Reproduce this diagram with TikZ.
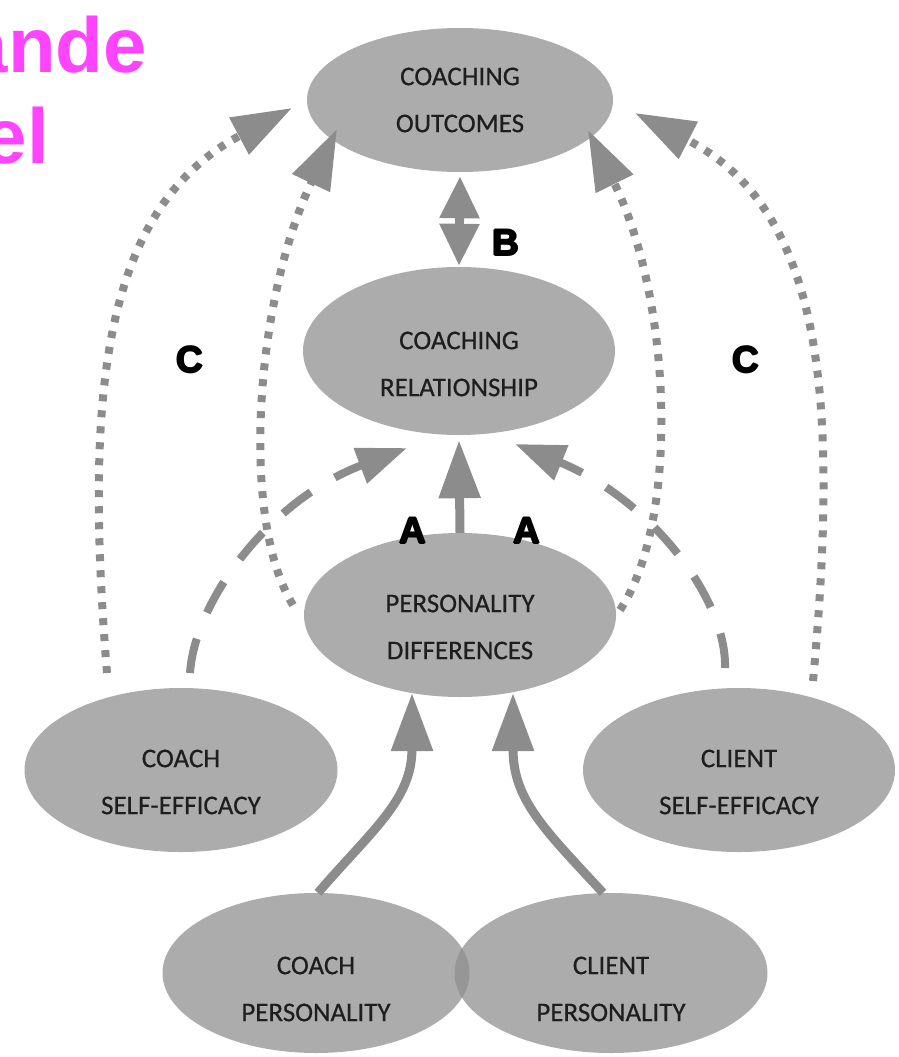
\documentclass[tikz,border=0pt]{standalone}
\usepackage{fontspec}
\setmainfont{Carlito}[FakeBold=0.5]
\newfontfamily\arialf{Liberation Sans}
\usetikzlibrary{arrows.meta,shapes.geometric}
\definecolor{ellfill}{RGB}{172,172,172}
\definecolor{arrgray}{RGB}{140,140,140}
\definecolor{ovl}{RGB}{150,150,150}
\definecolor{txt}{RGB}{30,30,30}
\definecolor{mag}{RGB}{255,68,255}
\newcommand\heavyglyph[1]{\makebox[0pt][l]{\hspace{-0.9pt}#1}\makebox[0pt][l]{\hspace{0.9pt}#1}\makebox[0pt][l]{\raisebox{0.9pt}{#1}}\makebox[0pt][l]{\raisebox{-0.9pt}{#1}}#1}
\begin{document}
\begin{tikzpicture}[x=1pt,y=-1pt,
  ell/.style={ellipse, fill=ellfill, draw=none, inner sep=0pt},
  lbl/.style={font=\fontsize{27}{47}\selectfont, text=txt, align=center, inner sep=0pt},
  letter/.style={font=\arialf\bfseries\fontsize{37}{37}\selectfont, text=black, inner sep=0pt},
  magtext/.style={font=\arialf\bfseries\fontsize{78}{78}\selectfont, text=mag, anchor=base east, inner sep=0pt},
  solidarrow/.style={draw=arrgray, line width=9pt, -{Triangle[length=58pt,width=40pt]}},
  barrow/.style={draw=arrgray, line width=9pt, {Triangle[length=42pt,width=38pt]}-{Triangle[length=42pt,width=38pt]}},
  dotarrow/.style={draw=arrgray, line width=8pt, dash pattern=on 7pt off 9pt, -{Triangle[length=60pt,width=40pt]}},
  dasharrow/.style={draw=arrgray, line width=8pt, dash pattern=on 35pt off 28pt, -{Triangle[length=50pt,width=36pt]}},
]
\useasboundingbox (0,0) rectangle (898,1057);

% title fragments (cut at the left edge as in the reference)
\node[magtext] (t1) at (147,72) {ande};
\node[magtext] (t2) at (49,163) {el};

% ellipses
\node[ell, minimum width=306pt, minimum height=144pt] (out) at (460,100) {};
\node[ell, minimum width=312pt, minimum height=168pt] (rel) at (459,351) {};
\node[ell, minimum width=312pt, minimum height=164pt] (pd) at (460,615) {};
\node[ell, minimum width=313pt, minimum height=164pt] (cse) at (181,770) {};
\node[ell, minimum width=312pt, minimum height=164pt] (lse) at (739,770) {};
\node[ell, minimum width=307pt, minimum height=160pt] (cp) at (316,973) {};
\node[ell, minimum width=313pt, minimum height=160pt] (lp) at (611,973) {};
\begin{scope}
  \clip (cp.center) ellipse [x radius=153.5pt, y radius=80pt];
  \fill[ovl] (lp.center) ellipse [x radius=156.5pt, y radius=80pt];
\end{scope}

% C paths (dotted)
\coordinate (oLs) at (107,673); \coordinate (oLe) at (292,108);
\draw[dotarrow] (oLs) .. controls (85,400) and (100,210) .. (oLe);
\coordinate (iLs) at (293,605); \coordinate (iLe) at (337,129);
\draw[dotarrow] (iLs) .. controls (240,520) and (255,300) .. (iLe);
\coordinate (iRs) at (620,610); \coordinate (iRe) at (588,130);
\draw[dotarrow] (iRs) .. controls (680,520) and (672,300) .. (iRe);
\coordinate (oRs) at (813,681); \coordinate (oRe) at (635,113);
\draw[dotarrow] (oRs) .. controls (839,400) and (824,210) .. (oRe);

% dashed paths
\coordinate (dLs) at (190,673); \coordinate (dLe) at (407,448);
\draw[dasharrow] (dLs) .. controls (195,600) and (270,500) .. (dLe);
\coordinate (dRs) at (725,668); \coordinate (dRe) at (515,444);
\draw[dasharrow] (dRs) .. controls (727,600) and (652,500) .. (dRe);

% solid arrows
\draw[solidarrow] (pd.north) -- ([yshift=-5pt]rel.south);
\draw[barrow] ([yshift=-4pt]out.south) -- ([yshift=1pt]rel.north);
\coordinate (pAl) at (412,693); \coordinate (pAr) at (513,693);
\draw[solidarrow] ([xshift=2pt]cp.north) .. controls (372,830) and (412,800) .. (pAl);
\draw[solidarrow] ([xshift=-8pt]lp.north) .. controls (545,830) and (513,800) .. (pAr);

% labels
\node[lbl] (outT) at (460,100) {COACHING\\OUTCOMES};
\node[lbl] (relT) at (459,364) {COACHING\\RELATIONSHIP};
\node[lbl] (pdT) at (460,627) {PERSONALITY\\DIFFERENCES};
\node[lbl] (cseT) at (181,782) {COACH\\SELF-EFFICACY};
\node[lbl] (lseT) at (739,782) {CLIENT\\SELF-EFFICACY};
\node[lbl] (cpT) at (316,989) {COACH\\PERSONALITY};
\node[lbl] (lpT) at (611,989) {CLIENT\\PERSONALITY};

\node[letter] (Bl) at (506,243) {\heavyglyph{B}};
\node[letter] (Cl) at (190,360) {\heavyglyph{C}};
\node[letter] (Cr) at (746,360) {\heavyglyph{C}};
\node[letter] (Al) at (413,531) {\heavyglyph{A}};
\node[letter] (Ar) at (527,531) {\heavyglyph{A}};
\end{tikzpicture}
\end{document}
